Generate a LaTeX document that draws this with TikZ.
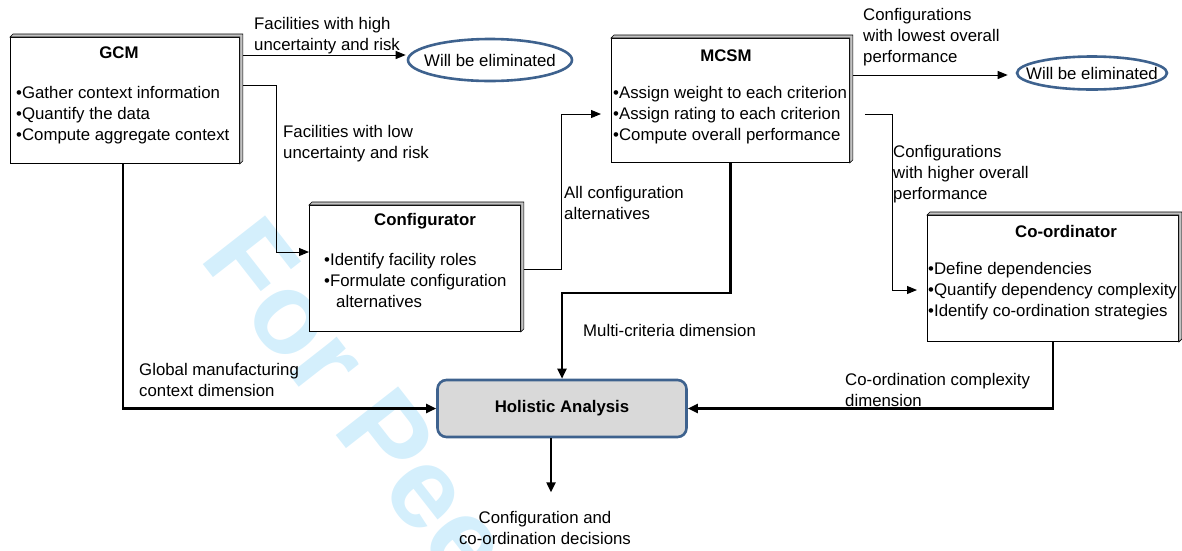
\documentclass[tikz,border=0pt]{standalone}
\usepackage{fontspec}
\setmainfont{Liberation Sans}
\usetikzlibrary{arrows.meta,calc,shapes.geometric}
\definecolor{hblue}{RGB}{62,98,142}
\definecolor{hgray}{RGB}{217,217,217}
\definecolor{wm}{RGB}{212,239,252}
\definecolor{side}{RGB}{195,195,195}
\newcommand{\sidestrip}[1]{\draw[fill=side, line width=0.6pt] (#1.north west) -- ++(3,-3) -- ($(#1.north east)+(3,-3)$) -- ($(#1.south east)+(3,-3)$) -- (#1.south east) -- (#1.north east) -- cycle;}
\begin{document}
\begin{tikzpicture}[x=1pt,y=-1pt,
  every node/.style={font=\fontsize{16.8}{21}\selectfont, inner sep=0pt},
  box/.style={draw, fill=white, line width=0.9pt, anchor=north west},
  title/.style={font=\fontsize{16.8}{21}\selectfont\bfseries},
  lst/.style={align=left, anchor=west},
  lbl/.style={align=left, anchor=west},
  conn/.style={draw, line width=1pt, -{Triangle[length=10pt,width=8pt]}},
  bconn/.style={draw, line width=2.2pt, -{Triangle[length=10pt,width=9pt]}},
  elim/.style={ellipse, draw=hblue, line width=2.6pt, fill=white},
]
\useasboundingbox (0,0) rectangle (1182,550);
\begin{scope}
\clip (0,0) rectangle (1182,550);
\node[rotate=-52, anchor=base west, text=wm, font=\fontsize{115}{115}\selectfont\bfseries] (wmk) at (198,258) {For Peer Review};
\end{scope}

% boxes
\node[box, minimum width=229pt, minimum height=126pt] (gcm) at (10,37) {};
\node[box, minimum width=211pt, minimum height=126pt] (cfg) at (309,205) {};
\node[box, minimum width=238pt, minimum height=124pt] (mcsm) at (611,38) {};
\node[box, minimum width=251pt, minimum height=126pt] (crd) at (927,215) {};

% box texts
\node[title] (gcmt) at (119,53) {GCM};
\node[lst] (gcml) at (16,114.7) {•Gather context information\\•Quantify the data\\•Compute aggregate context};
\node[title] (cfgt) at (425,221) {Configurator};
\node[lst] (cfgl) at (324,280.7) {•Identify facility roles\\•Formulate configuration\\\hspace*{12pt}alternatives};
\node[title] (mcsmt) at (726,56) {MCSM};
\node[lst] (mcsml) at (613,114.7) {•Assign weight to each criterion\\•Assign rating to each criterion\\•Compute overall performance};
\node[title] (crdt) at (1066,231) {Co-ordinator};
\node[lst] (crdl) at (928,290.7) {•Define dependencies\\•Quantify dependency complexity\\•Identify co-ordination strategies};

\sidestrip{gcm}
\sidestrip{cfg}
\sidestrip{mcsm}
\sidestrip{crd}

% ellipses and holistic
\node[elim, minimum width=164pt, minimum height=42pt] (elim1) at (490,60) {};
\node (elim1t) at (elim1.center) {Will be eliminated};
\node[elim, minimum width=150pt, minimum height=33pt] (elim2) at (1092,73) {};
\node (elim2t) at (elim2.center) {Will be eliminated};
\node[draw=hblue, fill=hgray, line width=2.6pt, rounded corners=9pt, minimum width=249pt, minimum height=57pt, font=\fontsize{16.8}{21}\selectfont\bfseries] (hol) at (562,408.5) {Holistic Analysis};

% thin connectors
\draw[conn] ($(gcm.north east)+(3,18)$) -- ($(elim1.west)+(-1,-5)$);
\draw[conn] ($(gcm.north east)+(3,48)$) -- ++(34,0) |- ($(cfg.north west)+(0,47)$);
\draw[conn] ($(cfg.north east)+(3,64)$) -- ++(38,0) |- ($(mcsm.north west)+(-10,76)$);
\draw[conn] ($(mcsm.north east)+(3,37)$) -- ($(elim2.west)+(-8,2)$);
\draw[conn] ($(mcsm.north east)+(15,76)$) -- ++(28,0) |- ($(crd.north west)+(-10,75)$);

% bold connectors
\draw[bconn] (gcm.south) ++(-2,0) |- (hol.west);
\draw[bconn] (mcsm.south) |- ($(hol.north)+(0,-86)$) -- (hol.north);
\draw[bconn] (crd.south) |- (hol.east);
\coordinate (dec) at ($(hol.south)+(-11,54)$);
\draw[bconn] ($(hol.south)+(-11,0)$) -- (dec);

% labels
\node[lbl] (l1) at (254,36) {Facilities with high\\uncertainty and risk};
\node[lbl] (l2) at (283,144) {Facilities with low\\uncertainty and risk};
\node[lbl] (l3) at (564,203) {All configuration\\alternatives};
\node[lbl] (l4) at (863,37) {Configurations\\with lowest overall\\performance};
\node[lbl] (l5) at (893,174) {Configurations\\with higher overall\\performance};
\node[lbl] (l6) at (139,380) {Global manufacturing\\context dimension};
\node[lbl] (l7) at (583,330) {Multi-criteria dimension};
\node[lbl] (l8) at (845,390) {Co-ordination complexity\\dimension};
\node[align=center] (l9) at (545,528) {Configuration and\\co-ordination decisions};
\end{tikzpicture}
\end{document}
